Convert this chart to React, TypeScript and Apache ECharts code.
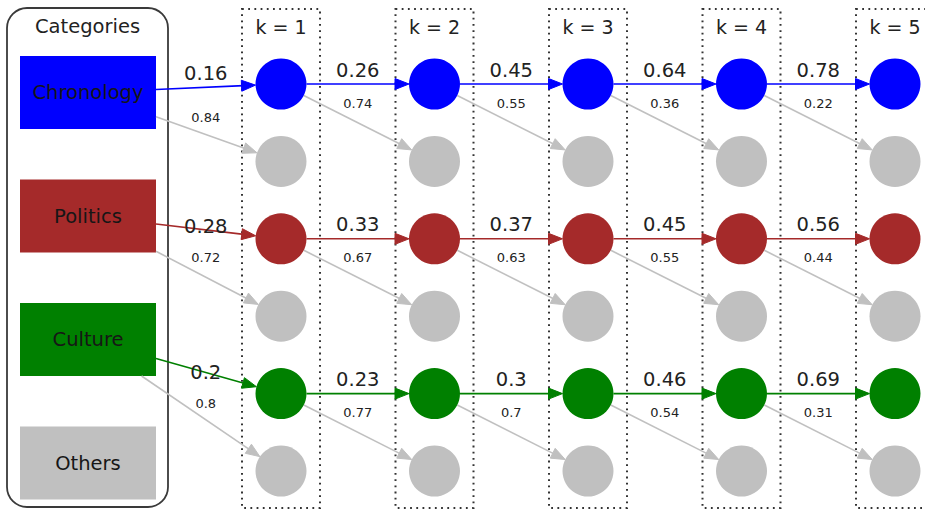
import React, { useEffect, useRef } from "react";
import * as echarts from "echarts";

// ---------- data ----------
const categories = ["Chronology", "Politics", "Culture", "Others"];
const categoryColors = ["#0000ff", "#a52a2a", "#008000", "#c0c0c0"];
const steps = ["k = 1", "k = 2", "k = 3", "k = 4", "k = 5"];
// probability of staying in the category (coloured arrows)
const chronologyStay = [0.16, 0.26, 0.45, 0.64, 0.78];
const politicsStay = [0.28, 0.33, 0.37, 0.45, 0.56];
const cultureStay = [0.2, 0.23, 0.3, 0.46, 0.69];
// probability of moving to "others" (grey arrows)
const chronologyLeave = [0.84, 0.74, 0.55, 0.36, 0.22];
const politicsLeave = [0.72, 0.67, 0.63, 0.55, 0.44];
const cultureLeave = [0.8, 0.77, 0.7, 0.54, 0.31];

const stayProbs = [chronologyStay, politicsStay, cultureStay];
const leaveProbs = [chronologyLeave, politicsLeave, cultureLeave];
const OTHER = 3;

// ---------- layout (axis units == pixels) ----------
const W = 925;
const H = 509;
const PANEL = { x0: 7, y0: 8, x1: 168, y1: 507, r: 20 };
const RECT_CX = 88;
const RECT_W = 136;
const RECT_H = 73;
const RECT_Y0 = 92.5;
const RECT_DY = 123.5;
const COL_X0 = 281;
const COL_DX = 153.5;
const ROW_Y0 = 84;
const ROW_DY = 77.4;
const CIRCLE_R = 25.5;
const BOX_HALF = 39;
const BOX_TOP = 9;
const BOX_BOTTOM = 508;
const HEAD_Y = 27;
const BIG_DY = -14;
const SMALL_DY = 19;
const FIRST_BIG_DY = [-11, -12, -21.5];
const FIRST_SMALL_DY = [33.5, 19, 10];
const FONT = "DejaVu Sans";
const TEXT = "#222222";

const colX = (j: number) => COL_X0 + j * COL_DX;
const rowY = (r: number) => ROW_Y0 + r * ROW_DY;
const rectY = (c: number) => RECT_Y0 + c * RECT_DY;

// nodes
const nodeData: any[] = [];
steps.forEach((_, j) => {
  for (let r = 0; r < 6; r++) {
    const isMain = r % 2 === 0;
    nodeData.push({
      value: [colX(j), rowY(r)],
      itemStyle: { color: isMain ? categoryColors[r / 2] : categoryColors[OTHER], opacity: 1 },
    });
  }
});

// edges: [x1, y1, x2, y2, fromRect, colorIndex]
const edgeData: number[][] = [];
const labelData: number[][] = [];
stayProbs.forEach((probs, c) => {
  probs.forEach((p, j) => {
    const fromRect = j === 0;
    const sx = fromRect ? RECT_CX : colX(j - 1);
    const sy = fromRect ? rectY(c) : rowY(2 * c);
    edgeData.push([sx, sy, colX(j), rowY(2 * c + 1), fromRect ? 1 : 0, OTHER]);
    edgeData.push([sx, sy, colX(j), rowY(2 * c), fromRect ? 1 : 0, c]);
    const midX = fromRect
      ? (RECT_CX + RECT_W / 2 + colX(0) - CIRCLE_R) / 2
      : (colX(j - 1) + colX(j)) / 2;
    const yBig = rowY(2 * c) + (fromRect ? FIRST_BIG_DY[c] : BIG_DY);
    const ySmall = rowY(2 * c) + (fromRect ? FIRST_SMALL_DY[c] : SMALL_DY);
    labelData.push([midX, yBig, p, 0]);
    labelData.push([midX, ySmall, leaveProbs[c][j], 1]);
  });
});

export default function App() {
  const ref = useRef<HTMLDivElement>(null);
  useEffect(() => {
    if (!ref.current) return;
    const chart = echarts.init(ref.current, undefined, { renderer: "svg" });
    chart.setOption({
      animation: false,
      backgroundColor: "#ffffff",
      grid: { left: 0, right: 0, top: 0, bottom: 0 },
      xAxis: { type: "value", min: 0, max: W, show: false },
      yAxis: { type: "value", min: 0, max: H, inverse: true, show: false },
      series: [
        {
          type: "custom",
          name: "panel",
          silent: true,
          z: 1,
          data: [[PANEL.x0, PANEL.y0, PANEL.x1, PANEL.y1]],
          renderItem: (params: any, api: any) => {
            const a = api.coord([api.value(0), api.value(1)]);
            const b = api.coord([api.value(2), api.value(3)]);
            return {
              type: "group",
              children: [
                {
                  type: "rect",
                  shape: { x: a[0], y: a[1], width: b[0] - a[0], height: b[1] - a[1], r: PANEL.r },
                  style: { fill: "none", stroke: "#3a3a3a", lineWidth: 1.8 },
                },
                {
                  type: "text",
                  x: (a[0] + b[0]) / 2,
                  y: api.coord([0, HEAD_Y - 1])[1],
                  style: {
                    text: "Categories",
                    fill: TEXT,
                    font: `19.5px "${FONT}"`,
                    align: "center",
                    verticalAlign: "middle",
                  },
                },
              ],
            };
          },
        },
        {
          type: "custom",
          name: "categories",
          silent: true,
          z: 2,
          data: categories.map((_, c) => [RECT_CX, rectY(c), c]),
          renderItem: (params: any, api: any) => {
            const c = api.value(2);
            const a = api.coord([api.value(0) - RECT_W / 2, api.value(1) - RECT_H / 2]);
            const b = api.coord([api.value(0) + RECT_W / 2, api.value(1) + RECT_H / 2]);
            return {
              type: "group",
              children: [
                {
                  type: "rect",
                  shape: { x: a[0], y: a[1], width: b[0] - a[0], height: b[1] - a[1] },
                  style: { fill: categoryColors[c] },
                },
                {
                  type: "text",
                  x: (a[0] + b[0]) / 2,
                  y: (a[1] + b[1]) / 2,
                  style: {
                    text: categories[c],
                    fill: "#161616",
                    font: `19.5px "${FONT}"`,
                    align: "center",
                    verticalAlign: "middle",
                  },
                },
              ],
            };
          },
        },
        {
          type: "custom",
          name: "steps",
          silent: true,
          z: 1,
          data: steps.map((_, j) => [colX(j), j]),
          renderItem: (params: any, api: any) => {
            const j = api.value(1);
            const a = api.coord([api.value(0) - BOX_HALF, BOX_TOP]);
            const b = api.coord([api.value(0) + BOX_HALF, BOX_BOTTOM]);
            return {
              type: "group",
              children: [
                {
                  type: "rect",
                  shape: { x: a[0], y: a[1], width: b[0] - a[0], height: b[1] - a[1] },
                  style: { fill: "none", stroke: "#333", lineWidth: 2, lineDash: [1.8, 4.4] },
                },
                {
                  type: "text",
                  x: (a[0] + b[0]) / 2,
                  y: api.coord([0, HEAD_Y])[1],
                  style: {
                    text: steps[j],
                    fill: TEXT,
                    font: `19px "${FONT}"`,
                    align: "center",
                    verticalAlign: "middle",
                  },
                },
              ],
            };
          },
        },
        {
          type: "custom",
          name: "edges",
          silent: true,
          z: 3,
          data: edgeData,
          renderItem: (params: any, api: any) => {
            const p1 = api.coord([api.value(0), api.value(1)]);
            const p2 = api.coord([api.value(2), api.value(3)]);
            const fromRect = api.value(4) === 1;
            const color = categoryColors[api.value(5)];
            const dx = p2[0] - p1[0];
            const dy = p2[1] - p1[1];
            const len = Math.hypot(dx, dy);
            const ux = dx / len;
            const uy = dy / len;
            const r = Math.abs(api.size([CIRCLE_R * 2, CIRCLE_R * 2])[0]) / 2;
            let sx: number, sy: number;
            if (fromRect) {
              const s = api.size([RECT_W, RECT_H]);
              const hw = Math.abs(s[0]) / 2;
              const hh = Math.abs(s[1]) / 2;
              const tx = dx === 0 ? Infinity : hw / Math.abs(dx);
              const ty = dy === 0 ? Infinity : hh / Math.abs(dy);
              const t = Math.min(tx, ty);
              sx = p1[0] + dx * t;
              sy = p1[1] + dy * t;
            } else {
              sx = p1[0] + ux * r;
              sy = p1[1] + uy * r;
            }
            const tipX = p2[0] - ux * r;
            const tipY = p2[1] - uy * r;
            const hl = 14;
            const hw2 = 5.5;
            const bx = tipX - ux * hl;
            const by = tipY - uy * hl;
            const nx = -uy;
            const ny = ux;
            return {
              type: "group",
              children: [
                {
                  type: "line",
                  shape: { x1: sx, y1: sy, x2: bx + ux * 2, y2: by + uy * 2 },
                  style: { stroke: color, lineWidth: 1.6 },
                },
                {
                  type: "polygon",
                  shape: {
                    points: [
                      [tipX, tipY],
                      [bx + nx * hw2, by + ny * hw2],
                      [bx - nx * hw2, by - ny * hw2],
                    ],
                  },
                  style: { fill: color, stroke: color, lineWidth: 1 },
                },
              ],
            };
          },
        },
        {
          type: "scatter",
          name: "nodes",
          silent: true,
          z: 4,
          symbol: "circle",
          symbolSize: CIRCLE_R * 2,
          itemStyle: { opacity: 1 },
          data: nodeData,
          emphasis: { disabled: true },
        },
        {
          type: "custom",
          name: "labels",
          silent: true,
          z: 5,
          data: labelData,
          renderItem: (params: any, api: any) => {
            const p = api.coord([api.value(0), api.value(1)]);
            const small = api.value(3) === 1;
            return {
              type: "text",
              x: p[0],
              y: p[1],
              style: {
                text: String(api.value(2)),
                fill: TEXT,
                font: `${small ? 13 : 19.5}px "${FONT}"`,
                align: "center",
                verticalAlign: "middle",
              },
            };
          },
        },
      ],
    });
    return () => chart.dispose();
  }, []);
  return (
    <div
      ref={ref}
      style={{ position: "fixed", left: 0, top: 0, width: W, height: H }}
    />
  );
}
